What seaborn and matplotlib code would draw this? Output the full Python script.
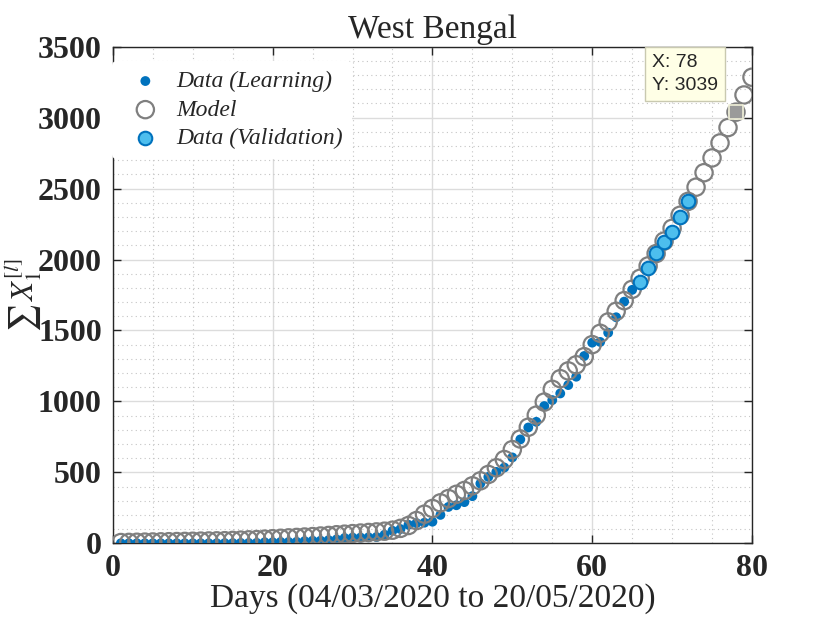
import numpy as np
import pandas as pd
import seaborn as sns
import matplotlib.pyplot as plt
from matplotlib.ticker import MultipleLocator

# cumulative cases
learn_days = list(range(1, 66))
learn_vals = [0] * 13 + [1, 1, 2, 2, 3, 7, 7, 9, 9, 10,
                         15, 18, 18, 22, 27, 37, 40, 40, 42, 44,
                         60, 88, 100, 130, 142, 145, 152, 200, 256, 268,
                         290, 332, 421, 468, 503, 534, 605, 732, 816, 856,
                         967, 1009, 1056, 1115, 1174, 1320, 1414, 1419, 1484, 1593,
                         1703, 1786]

model_days = list(range(1, 81))
model_vals = [5, 6, 7, 8, 9, 10, 11, 12, 13, 14,
              15, 16, 17, 18, 20, 22, 24, 26, 29, 32,
              35, 38, 41, 44, 47, 51, 55, 60, 64, 68,
              72, 76, 80, 85, 92, 105, 125, 160, 205, 245,
              285, 315, 345, 372, 405, 440, 485, 532, 590, 660,
              735, 818, 903, 995, 1085, 1160, 1215, 1258, 1315, 1400,
              1480, 1560, 1635, 1710, 1790, 1868, 1955, 2042, 2130, 2220,
              2312, 2410, 2510, 2612, 2716, 2822, 2930, 3039, 3160, 3285]

valid_days = [66, 67, 68, 69, 70, 71, 72]
valid_vals = [1842, 1941, 2047, 2124, 2195, 2300, 2413]

tip_x, tip_y = 78, 3039

learn = pd.DataFrame({"day": learn_days, "cases": learn_vals})
model = pd.DataFrame({"day": model_days, "cases": model_vals})
valid = pd.DataFrame({"day": valid_days, "cases": valid_vals})

sns.set_theme(style="ticks")
plt.rcParams["font.family"] = ["Liberation Serif", "DejaVu Serif"]
plt.rcParams["mathtext.fontset"] = "stix"

fig, ax = plt.subplots(figsize=(8.3, 6.23), dpi=100)
fig.subplots_adjust(left=0.136, right=0.906, bottom=0.128, top=0.925)

sns.scatterplot(data=learn, x="day", y="cases", ax=ax, color="#0072BD",
                s=50, edgecolor="none", label="Data (Learning)", zorder=3)
sns.scatterplot(data=model, x="day", y="cases", ax=ax, facecolor="none",
                edgecolor="#7f7f7f", linewidth=1.6, s=155, label="Model", zorder=4)
sns.scatterplot(data=valid, x="day", y="cases", ax=ax, color="#4DBEEE",
                edgecolor="#0072BD", linewidth=1.5, s=95, label="Data (Validation)", zorder=5)

# data tip
ax.scatter([tip_x], [tip_y], marker="s", s=110, color="#9a9a9a",
           edgecolor="#f0f0d8", linewidth=1.2, zorder=6, clip_on=False)
ax.annotate(f"X: {tip_x}\nY: {tip_y}", xy=(tip_x, tip_y), xytext=(-13, 13),
            textcoords="offset points", fontsize=14, family="Liberation Sans",
            ha="right", va="bottom", multialignment="left", linespacing=1.45,
            zorder=7, annotation_clip=False,
            bbox=dict(boxstyle="square,pad=0.35", facecolor="#ffffe6", edgecolor="#c9c9b0", lw=1))

ax.set_xlim(0, 80)
ax.set_ylim(0, 3500)
ax.xaxis.set_major_locator(MultipleLocator(20))
ax.xaxis.set_minor_locator(MultipleLocator(5))
ax.yaxis.set_major_locator(MultipleLocator(500))
ax.yaxis.set_minor_locator(MultipleLocator(100))

ax.grid(which="major", color="#dcdcdc", linewidth=1.0, linestyle="-")
ax.grid(which="minor", color="#c4c4c4", linewidth=0.8, linestyle=(0, (1, 3)))
ax.set_axisbelow(True)

for sp in ax.spines.values():
    sp.set_visible(True)
    sp.set_color("#262626")
    sp.set_linewidth(1.0)

ax.tick_params(which="major", direction="in", length=6, width=1, top=True, right=True,
               labelsize=23, color="#262626", pad=8)
ax.tick_params(which="minor", length=0)
for lab in ax.get_xticklabels() + ax.get_yticklabels():
    lab.set_fontweight("bold")

ax.set_title("West Bengal", fontsize=24, pad=6)
ax.set_xlabel("Days (04/03/2020 to 20/05/2020)", fontsize=24, labelpad=0)
ax.set_ylabel(r"$\sum\, X_1^{[l]}$", fontsize=22)
ax.yaxis.set_label_coords(-0.11, 0.5)

leg = ax.legend(loc="upper left", bbox_to_anchor=(-0.012, 0.985), frameon=True,
                prop={"family": "Liberation Serif", "style": "italic", "size": 17},
                handletextpad=0.3, borderaxespad=0.3, labelspacing=0.3, markerscale=1.0)
leg.get_frame().set_facecolor("white")
leg.get_frame().set_edgecolor("none")
leg.get_frame().set_alpha(1)

fig.savefig("out.png", dpi=100)
